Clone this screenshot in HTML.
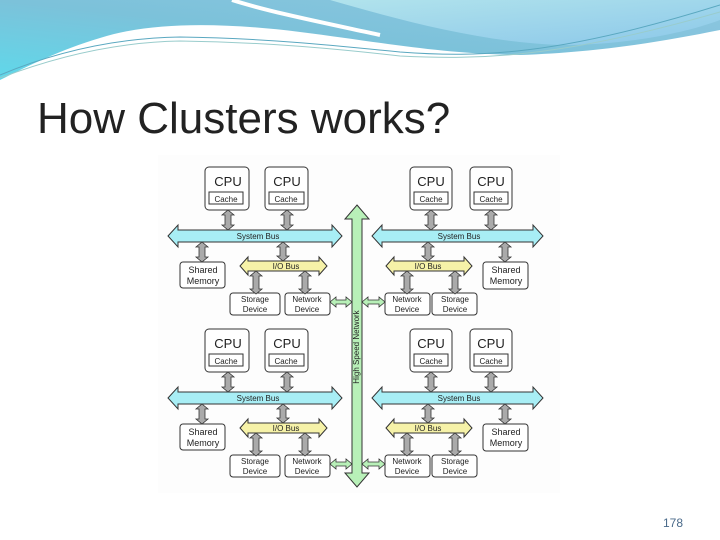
<!DOCTYPE html>
<html><head><meta charset="utf-8"><style>
html,body{margin:0;padding:0;background:#fff;}
body{width:720px;height:540px;position:relative;overflow:hidden;font-family:"Liberation Sans",sans-serif;}
</style></head><body>
<svg width="720" height="540" viewBox="0 0 720 540" xmlns="http://www.w3.org/2000/svg" style="position:absolute;left:0;top:0">
<defs>
<linearGradient id="hg" x1="0" y1="1" x2="1" y2="0">
<stop offset="0" stop-color="#5fd8ea"/><stop offset="0.5" stop-color="#7cc2da"/><stop offset="1" stop-color="#8ec6e0"/>
</linearGradient>
<linearGradient id="hg2" x1="0" y1="0" x2="1" y2="1">
<stop offset="0" stop-color="#b5e6ec"/><stop offset="1" stop-color="#8cc8ea"/>
</linearGradient>
</defs>
<!-- header -->
<path d="M0,0 H720 V30 C660,42 600,52 520,55 C440,54 380,42 300,32 C220,22 150,22 100,38 C60,50 30,65 0,80 Z" fill="url(#hg)"/>
<path d="M235,0 H720 V20 C680,35 620,45 560,45 C480,42 400,20 330,0 Z" fill="url(#hg2)"/>
<path d="M232,0 C270,12 320,22 380,35" stroke="#fff" stroke-width="4" fill="none"/>
<path d="M0,75 C60,50 120,38 180,37 C260,38 330,45 400,52 C480,58 560,55 720,5" stroke="#5aa8c0" stroke-width="1" fill="none"/>
<path d="M0,78 C60,55 120,42 180,41 C260,42 330,48 400,56 C480,60 560,58 720,12" stroke="#9cc" stroke-width="1" fill="none"/>
<text x="37" y="133" font-size="44" fill="#222">How Clusters works?</text>
<text x="663" y="527" font-size="12" fill="#4a6a8a">178</text>

<rect x="158" y="155" width="402" height="338" fill="#fdfdfd"/>

<!-- HSN -->
<polygon points="357,205 369,219 362,219 362,473 369,473 357,487 345,473 352,473 352,219 345,219" fill="#b8f0b8" stroke="#333" stroke-width="1"/>
<text transform="translate(359,347) rotate(-90)" font-size="8" text-anchor="middle" fill="#222">High Speed Network</text>

<g id="q" font-size="9" fill="#222" text-anchor="middle">
 <!-- left quadrant -->
 <rect x="205" y="167" width="44" height="43" rx="4" fill="#fff" stroke="#333"/>
 <rect x="265" y="167" width="43" height="43" rx="4" fill="#fff" stroke="#333"/>
 <text x="228" y="186" font-size="13">CPU</text><text x="287" y="186" font-size="13">CPU</text>
 <rect x="209" y="192" width="34" height="12" fill="#fff" stroke="#333"/><text x="226" y="202" font-size="8">Cache</text>
 <rect x="269" y="192" width="35" height="12" fill="#fff" stroke="#333"/><text x="286" y="202" font-size="8">Cache</text>
 <polygon points="168,236 178,225 178,230 332,230 332,225 342,236 332,247 332,242 178,242 178,247" fill="#a8eef5" stroke="#333"/>
 <text x="258" y="239" font-size="8">System Bus</text>
 <polygon points="240,266 248,257 248,261 319,261 319,257 327,266 319,275 319,271 248,271 248,275" fill="#f6f2a8" stroke="#333"/>
 <text x="286" y="269" font-size="8">I/O Bus</text>
 <rect x="180" y="262" width="45" height="26" rx="3" fill="#fff" stroke="#333"/>
 <text x="203" y="273">Shared</text><text x="203" y="284">Memory</text>
 <rect x="230" y="293" width="50" height="22" rx="3" fill="#fff" stroke="#333"/>
 <text x="255" y="302" font-size="8">Storage</text><text x="255" y="312" font-size="8">Device</text>
 <rect x="285" y="293" width="45" height="22" rx="3" fill="#fff" stroke="#333"/>
 <text x="307" y="302" font-size="8">Network</text><text x="307" y="312" font-size="8">Device</text>
 <g fill="#aaa" stroke="#333" stroke-width="0.8">
  <polygon points="228,210 234,215 231,215 231,225 234,225 228,230 222,225 225,225 225,215 222,215"/>
  <polygon points="287,210 293,215 290,215 290,225 293,225 287,230 281,225 284,225 284,215 281,215"/>
  <polygon points="202,242 208,247 205,247 205,257 208,257 202,262 196,257 199,257 199,247 196,247"/>
  <polygon points="283,242 289,247 286,247 286,256 289,256 283,261 277,256 280,256 280,247 277,247"/>
  <polygon points="256,271 262,276 259,276 259,289 262,289 256,294 250,289 253,289 253,276 250,276"/>
  <polygon points="305,271 311,276 308,276 308,289 311,289 305,294 299,289 302,289 302,276 299,276"/>
 </g>
 <polygon points="330,302 336,297 336,300 346,300 346,297 352,302 346,307 346,304 336,304 336,307" fill="#b8f0b8" stroke="#333" stroke-width="0.8"/>

 <!-- right quadrant -->
 <rect x="410" y="167" width="42" height="43" rx="4" fill="#fff" stroke="#333"/>
 <rect x="470" y="167" width="42" height="43" rx="4" fill="#fff" stroke="#333"/>
 <text x="431" y="186" font-size="13">CPU</text><text x="491" y="186" font-size="13">CPU</text>
 <rect x="414" y="192" width="34" height="12" fill="#fff" stroke="#333"/><text x="431" y="202" font-size="8">Cache</text>
 <rect x="474" y="192" width="34" height="12" fill="#fff" stroke="#333"/><text x="491" y="202" font-size="8">Cache</text>
 <polygon points="372,236 382,225 382,230 533,230 533,225 543,236 533,247 533,242 382,242 382,247" fill="#a8eef5" stroke="#333"/>
 <text x="459" y="239" font-size="8">System Bus</text>
 <polygon points="386,266 394,257 394,261 464,261 464,257 472,266 464,275 464,271 394,271 394,275" fill="#f6f2a8" stroke="#333"/>
 <text x="428" y="269" font-size="8">I/O Bus</text>
 <rect x="483" y="262" width="45" height="27" rx="3" fill="#fff" stroke="#333"/>
 <text x="506" y="273">Shared</text><text x="506" y="284">Memory</text>
 <rect x="385" y="293" width="45" height="22" rx="3" fill="#fff" stroke="#333"/>
 <text x="407" y="302" font-size="8">Network</text><text x="407" y="312" font-size="8">Device</text>
 <rect x="432" y="293" width="45" height="22" rx="3" fill="#fff" stroke="#333"/>
 <text x="455" y="302" font-size="8">Storage</text><text x="455" y="312" font-size="8">Device</text>
 <g fill="#aaa" stroke="#333" stroke-width="0.8">
  <polygon points="431,210 437,215 434,215 434,225 437,225 431,230 425,225 428,225 428,215 425,215"/>
  <polygon points="491,210 497,215 494,215 494,225 497,225 491,230 485,225 488,225 488,215 485,215"/>
  <polygon points="505,242 511,247 508,247 508,257 511,257 505,262 499,257 502,257 502,247 499,247"/>
  <polygon points="428,242 434,247 431,247 431,256 434,256 428,261 422,256 425,256 425,247 422,247"/>
  <polygon points="407,271 413,276 410,276 410,289 413,289 407,294 401,289 404,289 404,276 401,276"/>
  <polygon points="455,271 461,276 458,276 458,289 461,289 455,294 449,289 452,289 452,276 449,276"/>
 </g>
 <polygon points="362,302 368,297 368,300 379,300 379,297 385,302 379,307 379,304 368,304 368,307" fill="#b8f0b8" stroke="#333" stroke-width="0.8"/>
</g>
<use href="#q" transform="translate(0,162)"/>
<!-- redraw shaft segment to cover -->
</svg>
</body></html>
